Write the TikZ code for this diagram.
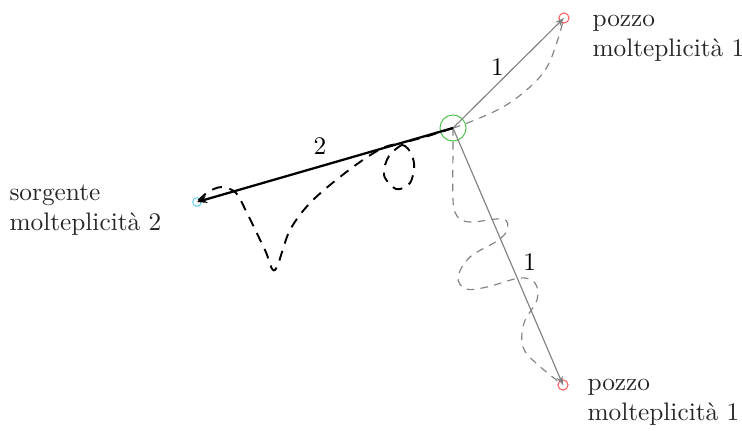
\documentclass[tikz,border=0pt]{standalone}
\usetikzlibrary{arrows.meta}
\begin{document}
\begin{tikzpicture}[x=0.395pt,y=-0.395pt,
  vtx/.style={circle,draw,inner sep=0pt},
  lab/.style={anchor=west,align=left,inner sep=0pt,text=black!85},
  num/.style={text=black,inner sep=0pt,anchor=center},
  main/.style={line width=0.9pt,-{Stealth[length=4pt,width=3pt]}},
  thin/.style={draw=black!50,line width=0.45pt,-{Stealth[length=3.5pt,width=2.5pt]}},
  walkb/.style={dashed,line width=0.75pt,dash pattern=on 4pt off 3pt},
  walkg/.style={dashed,draw=black!50,line width=0.45pt,dash pattern=on 3pt off 2.5pt}]
\useasboundingbox (0,0) rectangle (742,430);
\node[vtx,draw=green!65!black!70,minimum size=10.3pt] (c) at (453,128) {};
\node[vtx,draw=cyan!60,minimum size=3.4pt] (s) at (197,202) {};
\node[vtx,draw=red!65,minimum size=4pt] (p1) at (564,18) {};
\node[vtx,draw=red!65,minimum size=4pt] (p2) at (563,385) {};
% straight connectors
\draw[main] (c.center) -- (s.center) node[num,pos=0.52,yshift=8pt] {2};
\draw[thin] (c.center) -- (p1.center) node[num,pos=0.555,xshift=-6.8pt] {1};
\draw[thin] (c.center) -- (p2.center) node[num,pos=0.52,xshift=7.7pt] {1};
% random walks
\draw[walkg] plot[smooth,tension=0.6] coordinates {(c.center) (470,122) (503,107) (530,87) (547,67) (557,42) (p1.center)};
\draw[walkg] plot[smooth,tension=0.6] coordinates {(c.center) (453,150) (453,200) (457,216) (470,222) (503,219) (507,230) (497,241) (470,257) (458,277) (466,289) (487,287) (520,278) (535,283) (537,300) (524,323) (523,347) (537,364) (p2.center)};
\draw[walkb] plot[smooth,tension=0.55] coordinates {(c.center) (425,137) (405,143) (389,156) (384,175) (396,189) (410,183) (414,163) (405,146) (385,147) (353,167) (313,200) (290,230) (275,270) (265,250) (247,213) (236,193) (222,187) (208,192) (s.center)};
% labels
\node[lab] (l1) at (592,38) {pozzo\\molteplicità 1};
\node[lab] (l2) at (587,402) {pozzo\\molteplicità 1};
\node[lab] (l3) at (9,210) {sorgente\\molteplicità 2};
\end{tikzpicture}
\end{document}
